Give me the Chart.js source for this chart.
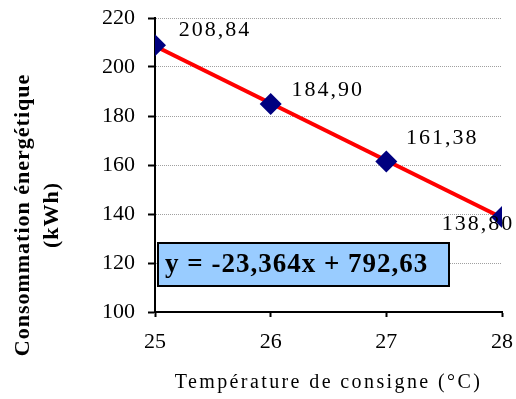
<!DOCTYPE html>
<html>
<head>
<meta charset="utf-8">
<script src="https://cdn.jsdelivr.net/npm/chart.js@4/dist/chart.umd.min.js"></script>
<style>
  html, body { margin: 0; padding: 0; background: #fff; }
</style>
</head>
<body>
<canvas id="myChart" width="516" height="399"></canvas>
<script>
const temps = [25, 26, 27, 28];
const conso = [208.84, 184.90, 161.38, 138.80];
const yTicks = [100, 120, 140, 160, 180, 200, 220];
// linear trend y = slope * x + intercept
const slope = -23.364;
const intercept = 792.63;
// where each value label sits relative to its point
const labelOffsets = [[60, -15], [57, -14], [56, -23], [-24, 7]];

const serif = '"Liberation Serif", "Times New Roman", serif';
const fr = v => v.toFixed(2).replace('.', ',');

const points = temps.map((t, i) => ({ x: t, y: conso[i] }));
const trend = [temps[0], temps[temps.length - 1]].map(t => ({ x: t, y: slope * t + intercept }));

const extras = {
  id: 'extras',
  afterDatasetsDraw(chart) {
    const ctx = chart.ctx;
    const area = chart.chartArea;
    const meta = chart.getDatasetMeta(0);
    ctx.save();

    // value labels
    ctx.fillStyle = '#000';
    ctx.font = '22px ' + serif;
    ctx.textAlign = 'center';
    ctx.textBaseline = 'middle';
    ctx.letterSpacing = '2px';
    meta.data.forEach((pt, i) => {
      ctx.fillText(fr(conso[i]), pt.x + labelOffsets[i][0], pt.y + labelOffsets[i][1]);
    });

    // equation box
    const bx = area.left + 3, by = 243, bw = 291, bh = 43;
    ctx.fillStyle = '#99CCFF';
    ctx.fillRect(bx, by, bw, bh);
    ctx.lineWidth = 2;
    ctx.strokeStyle = '#000';
    ctx.strokeRect(bx, by, bw, bh);
    ctx.fillStyle = '#000';
    ctx.font = 'bold 27px ' + serif;
    ctx.textAlign = 'left';
    ctx.letterSpacing = '1px';
    const eq = 'y = ' + String(slope).replace('.', ',') + 'x + ' + String(intercept).replace('.', ',');
    ctx.fillText(eq, bx + 7, by + bh / 2 + 1);

    // axis titles
    ctx.font = '20px ' + serif;
    ctx.textAlign = 'center';
    ctx.letterSpacing = '2.4px';
    ctx.fillText('Température de consigne (°C)', (area.left + area.right) / 2, 383);

    ctx.translate(0, 215);
    ctx.rotate(-Math.PI / 2);
    ctx.font = 'bold 22px ' + serif;
    ctx.letterSpacing = '1px';
    ctx.fillText('Consommation énergétique', 0, 23);
    ctx.fillText('(kWh)', 0, 52);
    ctx.restore();
  }
};

new Chart(document.getElementById('myChart'), {
  type: 'scatter',
  data: {
    datasets: [{
      label: 'Consommation',
      data: points,
      pointStyle: 'rectRot',
      pointRadius: 11,
      pointHoverRadius: 11,
      backgroundColor: '#000080',
      borderColor: '#000080',
      borderWidth: 0,
      order: 0
    }, {
      label: 'Tendance',
      data: trend,
      showLine: true,
      borderColor: '#FF0000',
      borderWidth: 4,
      pointRadius: 0,
      order: 1
    }]
  },
  options: {
    responsive: false,
    animation: false,
    layout: { padding: { top: 18, right: 14, left: 0, bottom: 0 } },
    plugins: {
      legend: { display: false },
      tooltip: { enabled: false }
    },
    scales: {
      x: {
        type: 'linear',
        min: 25,
        max: 28,
        afterBuildTicks: s => { s.ticks = temps.map(v => ({ value: v })); },
        afterFit: s => { s.height = 87; s.paddingLeft = 0; s.paddingRight = 0; },
        grid: { drawOnChartArea: false, drawTicks: true, tickLength: 5, tickColor: '#000', tickWidth: 2 },
        border: { display: true, color: '#000', width: 2 },
        ticks: { color: '#000', font: { family: serif, size: 22 }, padding: 12, maxRotation: 0 }
      },
      y: {
        min: 100,
        max: 220,
        afterBuildTicks: s => { s.ticks = yTicks.map(v => ({ value: v })); },
        afterFit: s => { s.width = 155; s.paddingTop = 0; s.paddingBottom = 0; },
        grid: { color: '#a0a0a0', lineWidth: 1, tickLength: 7, tickColor: '#000', tickWidth: 2 },
        border: { display: true, color: '#000', width: 2, dash: [1, 1] },
        ticks: { color: '#000', font: { family: serif, size: 22 }, padding: 13 }
      }
    }
  },
  plugins: [extras]
});
</script>
</body>
</html>
